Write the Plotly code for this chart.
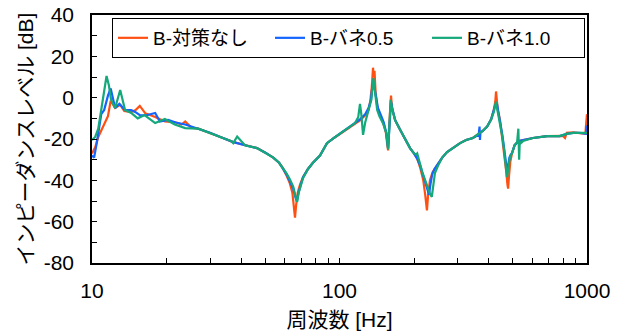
import plotly.graph_objects as go

# Impedance level vs frequency for three spring configurations
names = ["B-対策なし", "B-バネ0.5", "B-バネ1.0"]
colors = ["#FF5014", "#1464FF", "#14A87A"]

freq_none = [10, 10.3, 10.6, 10.9, 11.2, 11.6, 11.9, 12.4, 13.0, 13.5, 14.4, 15.0, 15.6, 16.4,
             18.0, 19.7, 21.9, 23.0, 23.8, 25.2, 26.9, 30, 33, 37, 41.5, 46.4, 50, 54, 57, 59,
             61, 63, 64.5, 65.5, 66.1, 66.8, 67.8, 69.3, 71.2, 74.6, 78.1, 83.4, 89, 95, 100.5,
             110, 115.5, 121, 127, 131, 133, 135, 136.6, 137.5, 138.5, 140, 142, 145, 150, 154,
             156, 157.2, 158.5, 160, 161.5, 163, 167.8, 176, 187.6, 193, 200, 206, 212, 218, 222,
             225.6, 228, 232, 238, 247.6, 260, 272, 290, 307, 325, 346, 369, 380, 395, 410, 420,
             426, 429, 432, 436, 445, 452, 458, 466, 472, 477, 480, 484, 490, 498, 510, 530, 552,
             605, 690, 776, 800, 815, 828, 880, 935, 985, 993, 1000]
level_none = [-27, -24, -19, -16, -13, -9, -1.5, -5, -3.5, -6.5, -7, -6, -4, -7.5,
              -9.4, -11.5, -12, -13, -11.5, -14.5, -15, -17, -19, -21.4, -23, -24.4, -26.5, -29, -31.5, -34,
              -37.5, -41.5, -46, -52, -58, -52, -46, -42, -38.5, -34.5, -31.5, -28, -22, -19.5, -17.5,
              -14, -12.3, -11, -8.5, -6, -2, 5, 14.5, 10, 13, 2, -4, -8, -12, -17,
              -23, -25.5, -15, -3, 1, -5, -10.8, -15.6, -22, -24.5, -27, -29.5, -34, -40, -47,
              -54.5, -47, -40, -36, -33, -29, -26.3, -24, -22, -20.5, -19.5, -17, -16, -14, -10.5, -6,
              -2, 3, -1, -6, -10.8, -17, -22, -30, -36, -42, -44, -38, -31, -26.8, -23, -21, -20.5,
              -19.5, -18.6, -18.6, -18.5, -19.5, -17, -16.8, -17, -17.5, -12, -8]

freq_s05 = [10, 10.2, 10.45, 10.7, 10.9, 11.2, 11.6, 11.9, 12.4, 12.9, 13.6, 14.4, 15.0, 15.6,
            16.6, 18.0, 18.8, 20.3, 21.8, 23.8, 26.0, 26.9, 30, 33, 37, 41.5, 46.4, 50, 54, 57,
            59, 61, 63, 65, 66.3, 67.3, 68.3, 69.8, 71.2, 74.6, 78.1, 83.4, 89, 95, 100.5, 110,
            115.5, 121, 127, 131, 134, 136, 137.5, 139, 141, 143, 147, 151, 154.5, 157.2, 159,
            161.5, 164, 167.8, 176, 187.6, 193, 200, 206, 212, 218, 223, 227, 230, 233, 237, 242,
            250, 260, 272, 290, 307, 325, 346, 365, 368, 369.5, 371, 380, 395, 410, 420, 426,
            429, 433, 440, 447, 455, 462, 470, 476, 480, 486, 492, 498, 510, 530, 552, 605, 690,
            776, 828, 880, 935, 990, 995, 1000]
level_s05 = [-28, -29, -22, -13, -8, -6, 1, 4.5, -5, -3, -6, -6, -7, -8.5,
             -8.5, -7.4, -11.5, -10.8, -12, -13, -14.5, -15, -17, -19, -21.4, -23, -24.4, -26.5, -29, -31.5,
             -34, -37, -40.5, -44, -48, -50, -46, -41.5, -38.5, -34.5, -31.5, -28, -22, -19.5, -17.5, -14,
             -12.3, -10.5, -8, -5, -1, 6.5, 7, 3, -2, -5, -8.5, -12, -17, -24.5, -15,
             -2, -6, -10.8, -15.6, -22, -24.5, -27, -29.5, -33, -37.5, -41, -44, -47, -42, -37, -34.5,
             -32, -29, -26.3, -24, -22, -20.5, -19.5, -18, -14, -20.5, -17, -16, -14, -10.5, -6.5, -3.5,
             -4, -3, -8, -12, -18, -24, -31, -36, -33, -29, -27.5, -26.8, -23, -21, -20.5, -19.5, -18.6,
             -18.6, -17.5, -17, -17, -17.5, -13.5, -16]

freq_s10 = [10, 10.3, 10.6, 10.9, 11.2, 11.45, 11.7, 11.94, 12.4, 13.0, 13.6, 14.4, 15.3, 16.3,
            18.0, 19.7, 21.6, 23.8, 26.9, 30, 33, 36.5, 37.2, 38.6, 40, 41.5, 46.4, 50, 54, 57,
            59, 61, 63, 65, 66.5, 67.4, 68.4, 70, 71.2, 74.6, 78.1, 83.4, 89, 95, 100.5, 110,
            115.5, 119, 121, 122.5, 124.5, 127, 129.5, 132, 134.5, 137, 138.5, 140, 142, 145, 150,
            154.5, 157.2, 159, 161, 163.5, 167.8, 176, 187.6, 193, 200, 204, 206, 210, 216, 222,
            228, 233, 236, 239, 243, 250, 260, 272, 290, 307, 325, 346, 369, 380, 395, 410, 420,
            426, 429, 433, 440, 447, 455, 462, 470, 475, 481, 488, 498, 510, 522, 528, 532, 535,
            540, 552, 605, 690, 776, 828, 880, 935, 1000]
level_s10 = [-20.5, -19, -15, -6, 5, 10.5, 6, -1, -5, 3.7, -6, -7.4, -10, -8.4,
             -12.3, -10.3, -13, -14.7, -15, -17, -19, -21, -22, -18.8, -21, -23, -24.4, -26.5, -29, -31.5,
             -34, -36.5, -39.5, -43, -48, -50.5, -46, -41.5, -39, -34.5, -31.5, -28, -22, -19.5, -17.5, -14,
             -12.3, -9.5, -3, -8, -18, -12, -8, -5, -1, 9.5, 4, -2, -6, -9, -12.5,
             -17, -25, -14, -1, -6, -11, -15.6, -22, -24.5, -27, -27.5, -27, -31, -36, -40,
             -44, -47, -48, -42, -36.5, -33, -29, -26.3, -24, -22, -20.5, -19.5, -17, -16, -14, -10.5, -7,
             -4, -2, -5, -9, -13, -19, -25, -32, -38.5, -34, -29, -26.8, -23, -21.5, -15, -30, -21,
             -22, -21, -19.5, -18.6, -18.6, -17.5, -17, -17, -17]

series = [(freq_none, level_none), (freq_s05, level_s05), (freq_s10, level_s10)]

x_tickvals = [10, 20, 30, 40, 50, 60, 70, 80, 90, 100, 200, 300, 400, 500, 600, 700, 800, 900, 1000]
x_ticktext = ["10", "", "", "", "", "", "", "", "", "100", "", "", "", "", "", "", "", "", "1000"]
y_tickvals = [-80, -70, -60, -50, -40, -30, -20, -10, 0, 10, 20, 30, 40]
y_ticktext = ["-80", "", "-60", "", "-40", "", "-20", "", "0", "", "20", "", "40"]

FONT = "Arial, 'Liberation Sans', 'Noto Sans CJK JP', sans-serif"

fig = go.Figure()
for name, color, (fx, fy) in zip(names, colors, series):
    fig.add_trace(go.Scatter(x=fx, y=fy, mode="lines", name=name,
                             line=dict(color=color, width=2.2)))

fig.update_layout(
    width=627, height=336,
    margin=dict(l=92, r=40, t=15, b=73, autoexpand=False),
    paper_bgcolor="white", plot_bgcolor="white",
    font=dict(family=FONT, color="black", size=21),
    showlegend=True,
    legend=dict(orientation="h", x=0.996, xanchor="right", y=0.988, yanchor="top",
                bordercolor="black", borderwidth=1, bgcolor="white",
                font=dict(size=19), tracegroupgap=0, entrywidth=112),
)
fig.update_xaxes(
    type="log", range=[1, 3], automargin=False,
    tickvals=x_tickvals, ticktext=x_ticktext,
    ticks="inside", ticklen=5, tickcolor="black", tickwidth=1,
    showline=True, linecolor="black", linewidth=1.5, mirror=True,
    showgrid=False, zeroline=False,
    ticklabelstandoff=8,
    title=dict(text="周波数 [Hz]", font=dict(size=21), standoff=11),
)
fig.update_yaxes(
    range=[-80, 40], automargin=False,
    tickvals=y_tickvals, ticktext=y_ticktext,
    ticks="inside", ticklen=5, tickcolor="black", tickwidth=1,
    showline=True, linecolor="black", linewidth=1.5, mirror=True,
    showgrid=False, zeroline=False,
    ticklabelstandoff=12,
    title=dict(text="インピーダンスレベル [dB]", font=dict(size=21), standoff=4),
)

fig.write_html("out.html")
